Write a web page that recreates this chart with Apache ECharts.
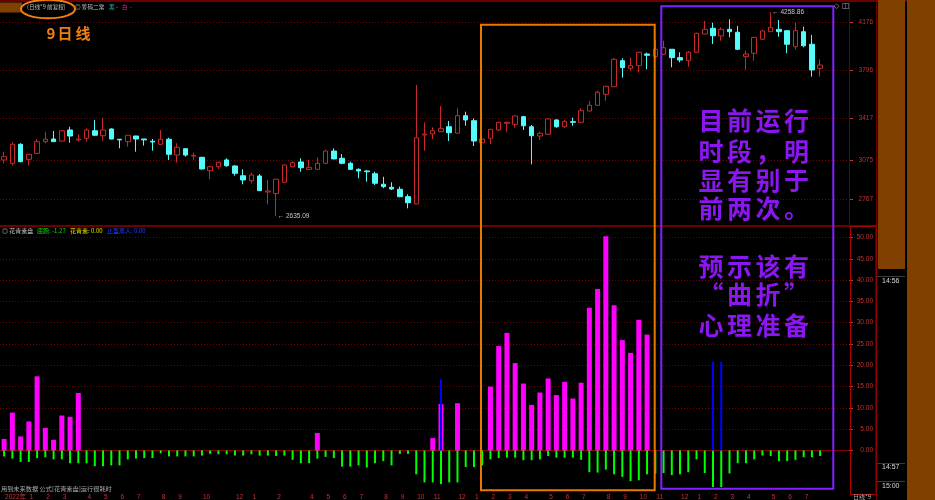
<!DOCTYPE html>
<html><head><meta charset="utf-8">
<script src="https://cdn.jsdelivr.net/npm/echarts@6/dist/echarts.min.js"></script>
<style>html,body{margin:0;padding:0;background:#000;}#c{width:935px;height:500px;}</style>
</head><body><div id="c"></div>
<script>
// ---- data: 9-day candles [open, close, lowest, highest]
const candles = [
[3081,3107,3054,3147],[3054,3206,3035,3222],[3206,3067,3062,3214],[3086,3126,3035,3128],[3134,3227,3128,3248],
[3227,3246,3214,3306],[3248,3227,3225,3312],[3232,3314,3227,3320],[3320,3272,3218,3346],[3240,3248,3227,3286],
[3254,3320,3227,3333],[3314,3278,3272,3400],[3274,3320,3234,3418],[3328,3248,3246,3333],[3246,3241,3174,3247],
[3227,3278,3187,3280],[3272,3248,3147,3273],[3248,3241,3195,3249],[3230,3224,3155,3248],[3206,3246,3200,3320],
[3246,3126,3081,3258],[3120,3182,3059,3214],[3171,3120,3107,3172],[3112,3118,3081,3139],[3102,3009,3003,3103],
[2995,3027,2927,3033],[3027,3062,3009,3067],[3081,3035,3027,3094],[3033,2974,2955,3038],[2955,2921,2887,3006],
[2915,2961,2895,2979],[2953,2836,2833,2969],[2825,2833,2727,2921],[2812,2927,2635.09,2931],[2903,3041,2899,3042],
[3027,3059,3022,3072],[3065,3019,2987,3094],[3006,3022,3001,3081],[3006,3054,3001,3102],[3054,3152,3049,3160],
[3152,3089,3086,3174],[3094,3054,3046,3128],[3054,3006,3001,3067],[3006,2993,2935,3014],[2993,2987,2907,3001],
[2971,2895,2881,2987],[2887,2868,2855,2947],[2863,2849,2841,2903],[2847,2788,2783,2868],[2788,2740,2695,2807],
[2730,3258,2728,3679],[3280,3288,3155,3381],[3288,3314,3248,3341],[3306,3333,3304,3511],[3346,3298,3232,3392],
[3294,3434,3292,3493],[3434,3400,3354,3466],[3394,3232,3192,3413],[3218,3248,3147,3250],[3254,3325,3208,3327],
[3320,3381,3312,3386],[3373,3381,3306,3386],[3365,3432,3338,3434],[3426,3354,3320,3432],[3346,3274,3046,3360],
[3272,3294,3240,3306],[3286,3408,3280,3413],[3400,3346,3338,3405],[3346,3386,3338,3400],[3386,3381,3354,3418],
[3381,3474,3380,3493],[3471,3517,3469,3551],[3517,3621,3514,3633],[3605,3669,3554,3671],[3665,3884,3663,3894],
[3873,3817,3737,3892],[3812,3833,3793,3897],[3833,3940,3780,3942],[3926,3916,3804,3937],[3905,3964,3892,4038],
[3924,3976,3918,4032],[3964,3897,3820,3966],[3897,3878,3860,3940],[3873,3940,3825,3950],[3940,4091,3937,4096],
[4086,4123,4084,4190],[4131,4072,4006,4176],[4070,4123,4032,4139],[4123,4104,4059,4203],[4099,3964,3958,4150],
[3905,3926,3799,3953],[3932,4059,3873,4061],[4044,4110,4038,4118],[4104,4139,4102,4258.86],[4123,4104,4064,4197],
[4112,4004,3932,4114],[3984,4112,3964,4176],[4104,3992,3980,4144],[4004,3799,3745,4078],[3812,3838,3745,3884]
];
// 花青素 (magenta)
const huaqing = [
2.7,8.9,3.3,6.8,17.4,5.3,2.5,8.2,7.9,13.5,
null,null,null,null,null,null,null,null,null,null,
null,null,null,null,null,null,null,null,null,null,
null,null,null,null,null,null,null,null,4.1,null,
null,null,null,null,null,null,null,null,null,null,
null,null,2.9,10.9,null,11.1,null,null,null,15.0,
24.5,27.6,20.5,15.7,10.7,13.6,16.9,13.0,16.1,12.2,
15.9,33.5,37.9,50.3,34.1,25.9,22.9,30.7,27.2,null,
null,null,null,null,null,null,null,null,null,null,
null,null,null,null,null,null,null,null,null,null
];
// 底跑 (green)
const dipao = [
-1.4,-1.9,-2.7,-2.7,-1.8,-1.6,-2.1,-2.1,-3.0,-3.0,
-3.0,-3.7,-3.7,-3.5,-3.5,-2.1,-1.9,-1.8,-1.8,-0.6,
-1.4,-1.4,-1.4,-1.4,-1.2,-0.8,-0.9,-0.9,-1.2,-1.2,
-0.9,-1.2,-1.2,-1.3,-1.2,-2.2,-3.0,-3.0,-1.9,-1.5,
-1.8,-3.8,-3.8,-3.5,-4.0,-3.0,-2.5,-3.5,-0.8,-0.8,
-5.6,-7.5,-7.5,-7.9,-7.5,-7.5,-3.9,-3.9,-3.5,-2.1,
-1.8,-1.7,-1.7,-2.3,-2.3,-2.1,-1.3,-1.7,-1.7,-1.7,
-2.2,-5.1,-5.2,-4.5,-5.6,-6.2,-7.2,-7.0,-5.6,-5.4,
-5.3,-5.8,-5.6,-5.1,-2.1,-5.3,-8.6,-8.6,-5.4,-3.0,
-3.0,-2.1,-1.2,-1.3,-2.5,-2.5,-2.2,-1.6,-1.6,-1.3
];
// 止盈离人 (blue)
const zhiying = new Array(100).fill(null);
zhiying[53] = 16.7; zhiying[86] = 20.8; zhiying[87] = 20.8;

const priceTicks = [2767, 3075, 3417, 3796, 4176];
const subTicks = [0, 5, 10, 15, 20, 25, 30, 35, 40, 45, 50];
const tickIdx = [0,3,5,7,10,12,14,16,19,21,24,28,30,33,37,39,41,43,46,48,50,52,55,57,59,61,63,66,68,70,73,75,77,79,82,84,86,88,90,93,95,97];
const tickText = ['2022年','1','2','3','4','5','6','7','8','9','10','12','1','2','4','5','6','7','8','9','10','11','12','1','2','3','4','5','6','7','8','9','10','11','12','1','2','3','4','5','6','7'];
const slotCount = 103;

// ---- chart
const cats = Array.from({length: slotCount}, (_, i) => String(i));
const labelMap = {};
tickIdx.forEach((k, j) => { labelMap[k] = tickText[j]; });

const RED = '#c62a2a', CYAN = '#54fcfc', GRIDC = '#6a0000', AXR = '#c83232';
const SANS = '"Liberation Sans", "Noto Sans CJK SC", sans-serif';
const CJK = '"Noto Sans CJK SC", sans-serif';

function txt(str, x, y, color, size, extra) {
  return Object.assign({type: 'text', x: x, y: y, z: 100, silent: true,
    style: {text: str, fill: color, font: size + 'px ' + CJK,
      align: 'left', verticalAlign: 'middle', textAlign: 'left', textVerticalAlign: 'middle'}}, extra || {});
}
function charRow(str, xc0, step, yc, size, color) {
  return Array.from(str).map((ch, k) => ({type: 'text', x: xc0 + k * step, y: yc, z: 100, silent: true,
    style: {text: ch, fill: color, font: 'bold ' + size + 'px ' + CJK,
      align: 'center', verticalAlign: 'middle', textAlign: 'center', textVerticalAlign: 'middle'}}));
}
function rect(x, y, w, h, fill, z) {
  return {type: 'rect', z: z || 1, silent: true, shape: {x: x, y: y, width: w, height: h}, style: {fill: fill}};
}
function line(x1, y1, x2, y2, color, w, z) {
  return {type: 'line', z: z || 1, silent: true, shape: {x1: x1, y1: y1, x2: x2, y2: y2}, style: {stroke: color, lineWidth: w || 1}};
}

const PURPLE = '#8a16f0';
const graphics = [
  rect(0, 0, 935, 2, '#6a0000'),
  rect(0, 2.5, 22, 10, '#804000'),
  txt('(日线*9 前复权)', 27, 6.5, '#c0c0c0', 5.6),
  txt('◎ 筹码二常', 75, 6.5, '#c0c0c0', 5.6),
  txt('黑', 109, 6.5, '#22c4c4', 5.6),
  txt('-', 116, 6.5, '#22c4c4', 5.6),
  txt('白', 122, 6.5, '#ff2090', 5.6),
  txt('-', 130, 6.5, '#ff2090', 5.6),
  {type: 'ellipse', z: 100, silent: true, shape: {cx: 48, cy: 9, rx: 27, ry: 9.3}, style: {fill: 'none', stroke: '#f08010', lineWidth: 2}},
  ...charRow('9', 51, 0, 33, 15, '#f08010'),
  ...charRow('日', 65, 0, 33, 15, '#f08010'),
  ...charRow('线', 83, 0, 33, 15, '#f08010'),
  {type: 'text', x: 834, y: 6, z: 100, silent: true, style: {text: '◇', fill: '#a0a0a0', font: '7px "DejaVu Sans"', verticalAlign: 'middle', textVerticalAlign: 'middle'}},
  {type: 'text', x: 842, y: 6, z: 100, silent: true, style: {text: '◫', fill: '#a0a0a0', font: '8px "DejaVu Sans"', verticalAlign: 'middle', textVerticalAlign: 'middle'}},
  // panel separator
  rect(0, 225, 877, 2, '#700000'),
  // right axis frames
  line(849.5, 0, 849.5, 226, '#700000', 1),
  line(876.5, 0, 876.5, 500, '#700000', 1),
  {type: 'rect', z: 5, silent: true, shape: {x: 850.5, y: 226.5, width: 25.5, height: 268}, style: {fill: 'none', stroke: '#b00000', lineWidth: 1}},
  rect(878, 0, 27, 269, '#804000'),
  rect(907, 0, 28, 500, '#804000'),
  line(877, 276.5, 905, 276.5, '#3a3a3a', 1),
  line(877, 463.5, 905, 463.5, '#3a3a3a', 1),
  line(877, 481.5, 905, 481.5, '#3a3a3a', 1),
  {type: 'text', x: 882, y: 281, z: 100, silent: true, style: {text: '14:56', fill: '#d8d8d8', font: '7px ' + SANS, verticalAlign: 'middle', textVerticalAlign: 'middle'}},
  {type: 'text', x: 882, y: 467.5, z: 100, silent: true, style: {text: '14:57', fill: '#d8d8d8', font: '7px ' + SANS, verticalAlign: 'middle', textVerticalAlign: 'middle'}},
  {type: 'text', x: 882, y: 486.5, z: 100, silent: true, style: {text: '15:00', fill: '#d8d8d8', font: '7px ' + SANS, verticalAlign: 'middle', textVerticalAlign: 'middle'}},
  txt('日线*9', 853, 497, '#b0b0b0', 6),
  // lower header
  txt('◎ 花青素盘', 2, 231, '#c0c0c0', 6),
  txt('底跑: -1.27', 37, 231, '#00e000', 6),
  txt('花青素: 0.00', 70, 231, '#e0e000', 6),
  txt('止盈离人: 0.00', 107, 231, '#2040ff', 6),
  txt('用到未来数据 公式[花青素盘]运行很耗时', 1, 488.5, '#a8a8a8', 6.2),
  // annotation boxes
  {type: 'rect', z: 90, silent: true, shape: {x: 481, y: 24.7, width: 173.7, height: 465.6}, style: {fill: 'none', stroke: '#e87800', lineWidth: 2}},
  {type: 'rect', z: 90, silent: true, shape: {x: 661.3, y: 6.3, width: 172, height: 482.4}, style: {fill: 'none', stroke: '#8022ff', lineWidth: 2}},
  ...charRow('目前运行', 711, 28.5, 120, 25, PURPLE),
  ...charRow('时段，明', 711, 28.5, 151, 25, PURPLE),
  ...charRow('显有别于', 711, 28.5, 180, 25, PURPLE),
  ...charRow('前两次。', 711, 28.5, 208, 25, PURPLE),
  ...charRow('预示该有', 711, 28.5, 266, 25, PURPLE),
  ...charRow('“曲折”', 711, 28.5, 294, 25, PURPLE),
  ...charRow('心理准备', 711, 28.5, 325, 25, PURPLE)
];

const chart = echarts.init(document.getElementById('c'), null, {renderer: 'canvas'});
chart.setOption({
  backgroundColor: '#000',
  animation: false,
  textStyle: {fontFamily: SANS},
  grid: [
    {left: -1, top: 5, width: 850, height: 221},
    {left: -1, top: 228, width: 850, height: 266}
  ],
  xAxis: [
    {type: 'category', gridIndex: 0, data: cats, show: false},
    {type: 'category', gridIndex: 1, data: cats,
      axisLine: {show: true, lineStyle: {color: '#800000', width: 1}},
      axisTick: {show: true, alignWithLabel: true, length: 3, interval: (i) => labelMap[i] !== undefined, lineStyle: {color: AXR}},
      axisLabel: {show: true, interval: 0, align: 'left', margin: 1, color: AXR, fontSize: 6.5,
        formatter: (v, i) => (labelMap[i] !== undefined ? labelMap[i] : ''), padding: [0, 0, 0, 1]},
      splitLine: {show: false}},
    {type: 'category', gridIndex: 1, data: cats, show: false},
    {type: 'category', gridIndex: 1, data: cats, show: false}
  ],
  yAxis: [
    {type: 'value', gridIndex: 0, position: 'right', min: 2554, max: 4317,
      axisLine: {show: true, lineStyle: {color: '#800000'}},
      axisTick: {show: true, customValues: priceTicks, length: 4, lineStyle: {color: AXR}},
      axisLabel: {show: true, customValues: priceTicks, color: AXR, fontSize: 6.5, align: 'right', margin: 24,
        formatter: (v) => String(Math.round(v))},
      splitLine: {show: true, lineStyle: {color: GRIDC, type: [1, 2], width: 1}}},
    {type: 'value', gridIndex: 1, position: 'right', min: -9.87, max: 52.22,
      axisLine: {show: false},
      axisTick: {show: true, customValues: subTicks, length: 4, lineStyle: {color: AXR}},
      axisLabel: {show: true, customValues: subTicks, color: AXR, fontSize: 6.5, align: 'right', margin: 24,
        formatter: (v) => Number(v).toFixed(2)},
      splitLine: {show: true, lineStyle: {color: GRIDC, type: [1, 2], width: 1}}}
  ],
  series: [
    {type: 'candlestick', xAxisIndex: 0, yAxisIndex: 0, data: candles, barWidth: 5,
      itemStyle: {color: '#000', color0: CYAN, borderColor: RED, borderColor0: CYAN, borderWidth: 1},
      markPoint: {symbol: 'circle', symbolSize: 1, silent: true,
        itemStyle: {color: 'rgba(0,0,0,0)'},
        label: {show: true, position: 'right', distance: 1, color: '#c8c8c8', fontSize: 6.5,
          formatter: (p) => '← ' + Number(p.value).toFixed(2)},
        data: [{type: 'min', valueDim: 'lowest'}, {type: 'max', valueDim: 'highest'}]}},
    {type: 'bar', xAxisIndex: 1, yAxisIndex: 1, data: huaqing, barWidth: 5, itemStyle: {color: '#ff00ff'}},
    {type: 'bar', xAxisIndex: 2, yAxisIndex: 1, data: dipao, barWidth: 2, itemStyle: {color: '#00ff00'}},
    {type: 'bar', xAxisIndex: 3, yAxisIndex: 1, data: zhiying, barWidth: 2, itemStyle: {color: '#0000ff'}, z: 3}
  ],
  graphic: {elements: graphics}
});
</script>
</body></html>
